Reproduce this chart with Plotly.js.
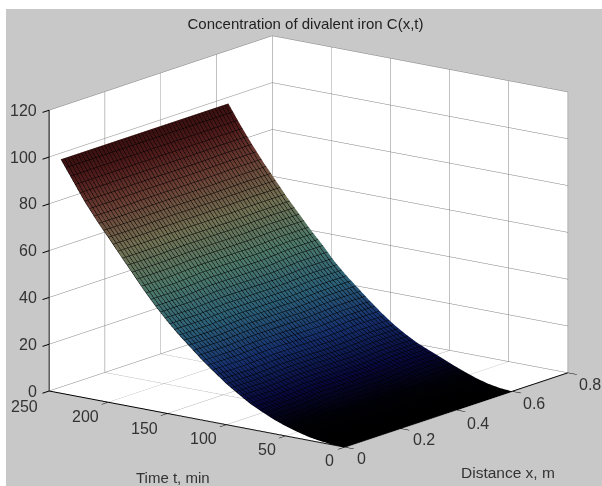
<!DOCTYPE html>
<html><head><meta charset="utf-8">
<script src="https://cdn.plot.ly/plotly-3.0.1.min.js"></script>
<style>html,body{margin:0;padding:0;background:#fff;overflow:hidden}#plot{position:absolute;left:6px;top:9px;width:596px;height:477px}</style>
</head><body><div id="plot"></div>
<script>
var distance = [0, 0.1, 0.2, 0.3, 0.4, 0.5, 0.6];
var time = [0,10,20,30,40,50,60,70,80,90,100,110,120,130,140,150,160,170,180,190,200,210,220,230,240];
var concAtX0  = [0,0.2,0.7,1.5,2.8,4.3,6.2,8.5,11,14.2,17.5,21.5,25.5,30,34.5,39.5,45,51,57.5,64,70.5,77,84,92,100];
var concAtX03 = [0,0.3,1,2.1,3.6,5.4,7.4,9.6,12,15,18.2,22.1,26.2,30.8,35.2,40.2,46,51.8,58,64.2,70.8,77.2,84.2,92,100];
var concAtX06 = [0,0.4,1.3,2.7,4.5,6.5,8.7,10.8,13,15.8,19,22.8,27,31.5,36,41,47,52.5,58.5,64.5,71,77.5,84.5,92,100];
var columns = [concAtX0,concAtX0,concAtX03,concAtX03,concAtX03,concAtX06,concAtX06];
var zRows = time.map(function(_,i){return columns.map(function(c){return c[i];});});
var tTicks=[0,50,100,150,200,250], xTicks=[0,0.2,0.4,0.6,0.8], zTicks=[0,20,40,60,80,100,120];
var tShift=[[-15,13],[-19,13],[-23,14],[-23,15],[-23,14],[-25,15]];
var xShift=[[17,11],[23,11],[22,13],[22,12],[22,12]];
var colors = [[0,'#000000'],[0.04,'#01010a'],[0.1,'#08083c'],[0.22,'#16306e'],[0.35,'#2c6078'],[0.5,'#4e7a6a'],[0.65,'#737254'],[0.8,'#6b3e34'],[0.92,'#4e1a1a'],[1,'#3a1010']];
var surf = {type:'surface',x:distance,y:time,z:zRows,colorscale:colors,cmin:0,cmax:100,showscale:false,
  lighting:{ambient:1,diffuse:0,specular:0,roughness:1,fresnel:0},
  contours:{x:{show:true,start:0,end:0.6,size:0.012,color:'#000',width:1},
            y:{show:true,start:0,end:240,size:4,color:'#000',width:1},
            z:{show:false}},hoverinfo:'skip'};
function ax(r,d){return {range:r,dtick:d,tick0:0,autorange:false,showbackground:true,backgroundcolor:'#fff',showgrid:true,gridcolor:'#808080',gridwidth:1,
  zeroline:false,showline:true,linecolor:'#000',linewidth:2,ticks:'outside',ticklen:11,tickwidth:2,tickcolor:'#000',showticklabels:false,title:{text:''},showspikes:false};}
var lblFont={family:'Liberation Sans, Arial',size:16,color:'#333'};
var ann=[];
zTicks.forEach(function(v){ann.push({x:0,y:250,z:v,text:String(v),showarrow:false,xanchor:'right',yanchor:'middle',xshift:-10,yshift:0,font:lblFont});});
tTicks.forEach(function(v,i){ann.push({x:0,y:v,z:0,text:String(v),showarrow:false,xshift:tShift[i][0],yshift:-tShift[i][1],font:lblFont});});
xTicks.forEach(function(v,i){ann.push({x:v,y:0,z:0,text:String(v),showarrow:false,xshift:xShift[i][0],yshift:-xShift[i][1],font:lblFont});});
var layout={width:596,height:477,margin:{l:0,r:0,t:0,b:0},paper_bgcolor:'#c8c8c8',
 title:{text:'Concentration of divalent iron C(x,t)',x:(305.5-6)/596,xanchor:'center',y:1-(24-9)/477,yanchor:'middle',font:{family:'Liberation Sans, Arial',size:15,color:'#222'}},
 scene:{domain:{x:[0.015,1],y:[0.025,1]},aspectmode:'manual',aspectratio:{x:1.593,y:1.593,z:1.248},annotations:ann,
  camera:{projection:{type:'orthographic'},up:{x:0,y:0,z:1},center:{x:0,y:0,z:0},eye:{x:-0.7727*1.5,y:-0.5832*1.5,z:0.2517*1.5}},
  xaxis:ax([0,0.8],0.2),yaxis:ax([0,250],50),zaxis:ax([0,120],20)},
 annotations:[
  {xref:'paper',yref:'paper',x:(173-6)/596,y:1-(477-9)/477,xanchor:'center',yanchor:'middle',text:'Time t, min',showarrow:false,font:{family:'Liberation Sans, Arial',size:15,color:'#333'}},
  {xref:'paper',yref:'paper',x:(508-6)/596,y:1-(472-9)/477,xanchor:'center',yanchor:'middle',text:'Distance x, m',showarrow:false,font:{family:'Liberation Sans, Arial',size:15.5,color:'#333'}}
 ]};
Plotly.newPlot('plot',[surf],layout,{displayModeBar:false});
</script></body></html>
